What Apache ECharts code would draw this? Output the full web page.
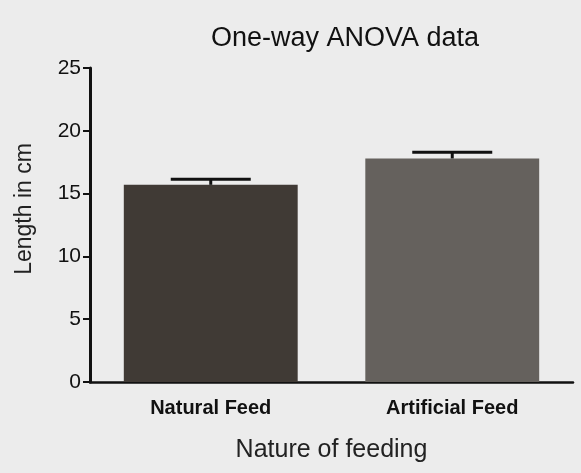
<!DOCTYPE html>
<html>
<head>
<meta charset="utf-8">
<script src="https://cdn.jsdelivr.net/npm/echarts@6/dist/echarts.min.js"></script>
<style>
  html, body { margin: 0; padding: 0; background: #ececec; }
  #chart { width: 581px; height: 473px; }
</style>
</head>
<body>
<div id="chart"></div>
<script>
// data
var categories = ["Natural Feed", "Artificial Feed"];
var means = [15.7, 17.8];
var errors = [0.45, 0.5];
var barColors = ["#403a35", "#65615d"];
var yTicks = [0, 5, 10, 15, 20, 25];

var chart = echarts.init(document.getElementById("chart"));

var barData = means.map(function (v, i) {
  return { value: v, itemStyle: { color: barColors[i] } };
});
var errData = means.map(function (v, i) {
  return [i, v, v + errors[i]];
});

var option = {
  backgroundColor: "#ececec",
  animation: false,
  title: {
    text: "One-way ANOVA data",
    left: 340,
    top: 20,
    textAlign: "center",
    textStyle: { fontFamily: "Liberation Sans", fontSize: 27, fontWeight: "normal", color: "#111" }
  },
  grid: { left: 90, right: 8, top: 68, bottom: 91 },
  xAxis: {
    type: "category",
    data: categories,
    name: "Nature of feeding",
    nameLocation: "middle",
    nameGap: 56,
    nameTextStyle: { fontFamily: "Liberation Sans", fontSize: 25, color: "#222" },
    axisLine: { lineStyle: { color: "#111", width: 2.5 } },
    axisTick: { alignWithLabel: true, length: 6, lineStyle: { color: "#111", width: 2 } },
    axisLabel: { margin: 16, fontFamily: "Liberation Sans", fontSize: 20, fontWeight: "bold", color: "#111" }
  },
  yAxis: {
    type: "value",
    min: 0,
    max: 25,
    interval: 5,
    name: "Length in cm",
    nameLocation: "middle",
    nameGap: 54,
    nameTextStyle: { fontFamily: "Liberation Sans", fontSize: 23, color: "#222", padding: [0, 0, 0, 32] },
    axisLine: { show: true, lineStyle: { color: "#111", width: 3 } },
    axisTick: { show: true, length: 7, lineStyle: { color: "#111", width: 2 } },
    axisLabel: {
      margin: 9, fontFamily: "Liberation Sans", fontSize: 21, color: "#111",
      formatter: function (v) { return yTicks.indexOf(v) >= 0 ? String(v) : ""; }
    },
    splitLine: { show: false }
  },
  series: [
    {
      type: "bar",
      data: barData,
      barWidth: "72%"
    },
    {
      type: "custom",
      data: errData,
      z: 5,
      renderItem: function (params, api) {
        var x = api.value(0);
        var lo = api.coord([x, api.value(1)]);
        var hi = api.coord([x, api.value(2)]);
        var half = 40;
        var style = { stroke: "#111", lineWidth: 3 };
        return {
          type: "group",
          children: [
            { type: "line", shape: { x1: lo[0], y1: lo[1], x2: hi[0], y2: hi[1] }, style: style },
            { type: "line", shape: { x1: hi[0] - half, y1: hi[1], x2: hi[0] + half, y2: hi[1] }, style: style }
          ]
        };
      }
    }
  ]
};

chart.setOption(option);
</script>
</body>
</html>
